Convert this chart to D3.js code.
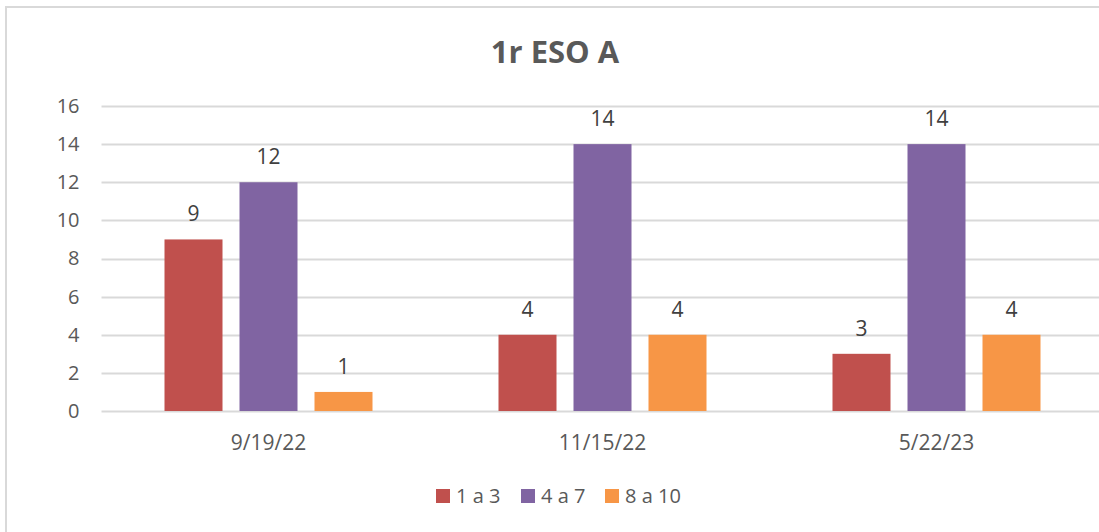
<!DOCTYPE html>
<html>
<head>
<meta charset="utf-8">
<script src="https://cdn.jsdelivr.net/npm/d3@7"></script>
<style>
  body { margin: 0; background: #fff; }
  svg { display: block; font-family: "Open Sans", "Liberation Sans", sans-serif; }
</style>
</head>
<body>
<div id="display"></div>
<script>
// chart data
let title = '1r ESO A';
let dates = ['9/19/22', '11/15/22', '5/22/23'];
let seriesNames = ['1 a 3', '4 a 7', '8 a 10'];
let seriesColors = ['#c0504d', '#8064a2', '#f79646'];
let low = [9, 4, 3];
let mid = [12, 14, 14];
let high = [1, 4, 4];
let yTicks = [0, 2, 4, 6, 8, 10, 12, 14, 16];

let values = [low, mid, high];
let rows = dates.map((d, i) => ({
    date: d,
    vals: seriesNames.map((s, j) => ({ key: s, value: values[j][i], color: seriesColors[j] }))
}));

let W = 1099, H = 532;
let plot = { left: 101.5, right: 1103.5, top: 106, bottom: 411 };
let font = '"Open Sans", sans-serif';

let svg = d3.select('#display')
    .append('svg')
        .attr('width', W)
        .attr('height', H);

// chart frame
svg.append('rect')
    .attr('x', 6).attr('y', 7)
    .attr('width', 1110).attr('height', 540)
    .attr('fill', '#fff')
    .attr('stroke', '#d9d9d9')
    .attr('stroke-width', 2);

svg.append('text')
    .attr('x', 555).attr('y', 63)
    .attr('text-anchor', 'middle')
    .attr('font-size', 31)
    .attr('font-weight', 'bold')
    .attr('fill', '#595959')
    .text(title);

let yScale = d3.scaleLinear()
    .domain([0, 16])
    .range([plot.bottom, plot.top]);

let x0 = d3.scaleBand()
    .domain(dates)
    .range([plot.left, plot.right]);

let x1 = d3.scaleBand()
    .domain(seriesNames)
    .range([63, 271])
    .paddingInner(17 / 75);

// gridlines
svg.append('g')
    .selectAll('line')
    .data(yTicks)
    .join('line')
        .attr('x1', plot.left)
        .attr('x2', plot.right)
        .attr('y1', d => Math.round(yScale(d)) + 0.5)
        .attr('y2', d => Math.round(yScale(d)) + 0.5)
        .attr('stroke', '#d9d9d9')
        .attr('stroke-width', 2);

// y axis labels
let yAxis = svg.append('g')
    .attr('transform', 'translate(' + (plot.left - 22) + ',0)')
    .call(d3.axisLeft(yScale).tickValues(yTicks).tickSize(0).tickPadding(0));
yAxis.select('.domain').remove();
yAxis.selectAll('text')
    .attr('font-size', 20)
    .attr('font-family', font)
    .attr('fill', '#595959');

// x axis labels
let xAxis = svg.append('g')
    .attr('transform', 'translate(0,' + plot.bottom + ')')
    .call(d3.axisBottom(x0).tickSize(0).tickPadding(0));
xAxis.select('.domain').remove();
xAxis.selectAll('text')
    .attr('dy', null)
    .attr('y', 39)
    .attr('font-size', 21)
    .attr('font-family', font)
    .attr('fill', '#595959');

// bars
let groups = svg.append('g')
    .selectAll('g')
    .data(rows)
    .join('g')
        .attr('transform', d => 'translate(' + x0(d.date) + ',0)');

groups.selectAll('rect')
    .data(d => d.vals)
    .join('rect')
        .attr('x', d => x1(d.key))
        .attr('y', d => yScale(d.value))
        .attr('width', x1.bandwidth())
        .attr('height', d => yScale(0) - yScale(d.value))
        .attr('fill', d => d.color);

groups.selectAll('text')
    .data(d => d.vals)
    .join('text')
        .attr('x', d => x1(d.key) + x1.bandwidth() / 2)
        .attr('y', d => yScale(d.value) - 18)
        .attr('text-anchor', 'middle')
        .attr('font-size', 21)
        .attr('fill', '#404040')
        .text(d => d.value);

// legend
let legendX = [436, 521, 605];
let legend = svg.append('g')
    .selectAll('g')
    .data(seriesNames)
    .join('g')
        .attr('transform', (d, i) => 'translate(' + legendX[i] + ',489)');

legend.append('rect')
    .attr('width', 14).attr('height', 14)
    .attr('fill', (d, i) => seriesColors[i]);

legend.append('text')
    .attr('x', 20).attr('y', 14)
    .attr('font-size', 20)
    .attr('fill', '#595959')
    .text(d => d);
</script>
</body>
</html>
